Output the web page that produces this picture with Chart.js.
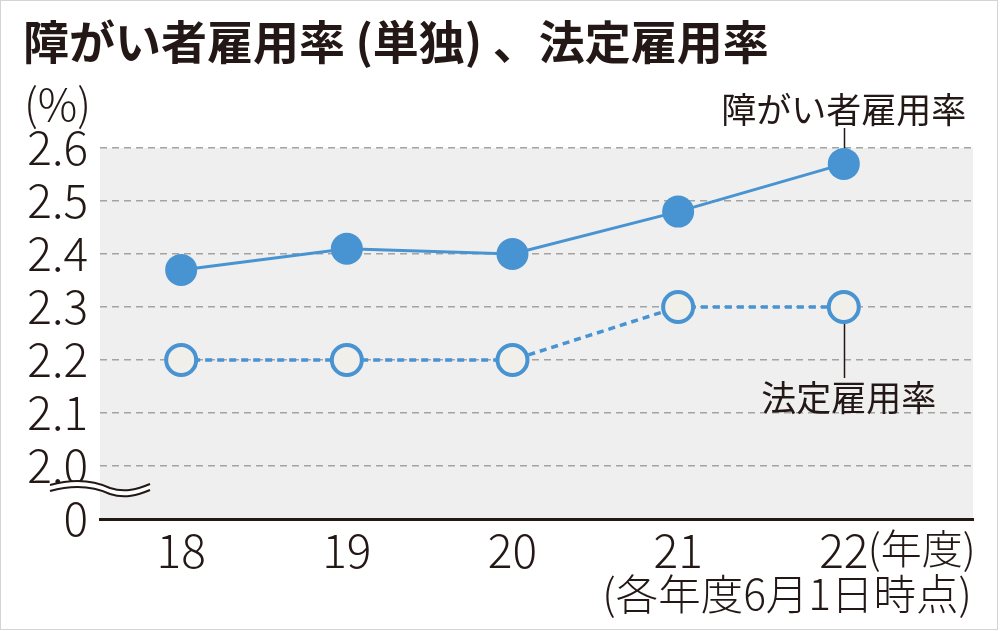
<!DOCTYPE html>
<html><head><meta charset="utf-8">
<script src="https://cdn.jsdelivr.net/npm/chart.js@4/dist/chart.umd.min.js"></script>
<style>html,body{margin:0;padding:0;background:#fff;}#wrap{width:1000px;height:631px;}</style>
</head><body><div id="wrap"><canvas id="c" width="1000" height="631"></canvas></div>
<script>
const years = [18, 19, 20, 21, 22];
const employmentRate = [2.37, 2.41, 2.40, 2.48, 2.57];
const legalRate = [2.2, 2.2, 2.2, 2.3, 2.3];
const yTickValues = [1.9, 2.0, 2.1, 2.2, 2.3, 2.4, 2.5, 2.6];
const titleText = '障がい者雇用率 (単独) 、法定雇用率';
const unitText = '(%)';
const seriesNames = ['障がい者雇用率', '法定雇用率'];
const xUnitText = '(年度)';
const noteText = '(各年度6月1日時点)';

const BLUE = '#4893d2';
const INK = '#231815';
const JP = '"Noto Sans CJK JP", "Noto Sans", sans-serif';

const decor = {
  id: 'decor',
  beforeDraw(chart) {
    const {ctx, chartArea: a} = chart;
    ctx.save();
    ctx.fillStyle = '#efefef';
    ctx.fillRect(a.left, a.top, a.right - a.left, a.bottom - a.top);
    ctx.restore();
  },
  beforeDatasetsDraw(chart) {
    const {ctx} = chart;
    const xs = chart.scales.x, ys = chart.scales.y;
    const x = Math.round(xs.getPixelForValue(years[4])) + 0.5;
    ctx.save();
    ctx.strokeStyle = INK; ctx.lineWidth = 1.5;
    ctx.beginPath();
    ctx.moveTo(x, 128); ctx.lineTo(x, ys.getPixelForValue(employmentRate[4]));
    ctx.moveTo(x, ys.getPixelForValue(legalRate[4])); ctx.lineTo(x, 378);
    ctx.stroke();
    ctx.restore();
  },
  afterDraw(chart) {
    const {ctx} = chart;
    const xs = chart.scales.x;
    const x22 = xs.getPixelForValue(years[4]);
    ctx.save();
    // border
    ctx.strokeStyle = '#d4d4d4'; ctx.lineWidth = 1;
    ctx.strokeRect(0.5, 0.5, 997, 629);
    // title
    ctx.fillStyle = INK;
    ctx.textBaseline = 'middle';
    ctx.textAlign = 'left';
    ctx.font = '600 46px ' + JP;
    ctx.fillText(titleText, 23, 42);
    // unit
    ctx.font = '300 44px ' + JP;
    ctx.fillText(unitText, 24, 104);
    // series labels
    ctx.font = '35px ' + JP;
    ctx.textAlign = 'center';
    ctx.fillText(seriesNames[0], x22, 110);
    ctx.fillText(seriesNames[1], x22 + 5, 398);
    // x unit and note
    ctx.font = '300 41px ' + JP;
    ctx.textAlign = 'left';
    ctx.fillText(xUnitText, x22 + 24, 548);
    ctx.font = '300 42.5px ' + JP;
    ctx.textAlign = 'right';
    ctx.fillText(noteText, 972, 594);
    // axis break squiggle
    const wave = (dy) => {
      ctx.moveTo(50, 485 + dy);
      ctx.bezierCurveTo(75, 478 + dy, 95, 481 + dy, 110, 488 + dy);
      ctx.bezierCurveTo(125, 493 + dy, 138, 489 + dy, 150, 484 + dy);
    };
    ctx.fillStyle = '#ffffff';
    ctx.beginPath();
    ctx.moveTo(50, 485);
    ctx.bezierCurveTo(75, 478, 95, 481, 110, 488);
    ctx.bezierCurveTo(125, 493, 138, 489, 150, 484);
    ctx.lineTo(150, 490);
    ctx.bezierCurveTo(138, 495, 125, 499, 110, 494);
    ctx.bezierCurveTo(95, 487, 75, 484, 50, 491);
    ctx.closePath();
    ctx.fill();
    ctx.strokeStyle = INK; ctx.lineWidth = 2;
    ctx.beginPath(); wave(0); ctx.stroke();
    ctx.beginPath(); wave(6); ctx.stroke();
    ctx.restore();
  }
};

new Chart(document.getElementById('c'), {
  type: 'line',
  data: {
    datasets: [
      {
        label: seriesNames[0],
        data: years.map((y, i) => ({x: y, y: employmentRate[i]})),
        borderColor: BLUE, backgroundColor: BLUE,
        borderWidth: 3,
        pointRadius: 16, pointBorderWidth: 0, pointBackgroundColor: BLUE,
        pointHoverRadius: 16,
        clip: false
      },
      {
        label: seriesNames[1],
        data: years.map((y, i) => ({x: y, y: legalRate[i]})),
        borderColor: BLUE, backgroundColor: '#f1efe9',
        borderWidth: 3.5, borderDash: [7, 5],
        pointRadius: 15, pointBorderWidth: 4, pointBackgroundColor: '#f1efe9', pointBorderColor: BLUE,
        pointHoverRadius: 15,
        clip: false
      }
    ]
  },
  options: {
    responsive: false,
    animation: false,
    events: [],
    layout: {padding: {left: 0, right: 27, top: 148, bottom: 0}},
    plugins: {legend: {display: false}, tooltip: {enabled: false}, title: {display: false}},
    scales: {
      x: {
        type: 'linear',
        min: 17.51, max: 22.78,
        afterBuildTicks: (s) => { s.ticks = years.map(v => ({value: v})); },
        afterFit: (s) => { s.height = 112; },
        grid: {display: false, drawTicks: false},
        border: {display: true, color: INK, width: 3},
        ticks: {
          padding: 4, color: INK, autoSkip: false, maxRotation: 0,
          font: {family: JP, size: 46, weight: 300},
          callback: (v) => String(v)
        }
      },
      y: {
        type: 'linear',
        min: 1.9, max: 2.6,
        afterBuildTicks: (s) => { s.ticks = yTickValues.map(v => ({value: v})); },
        afterFit: (s) => { s.width = 100; },
        grid: {
          drawTicks: false,
          color: (c) => (c.tick && c.tick.value < 1.95) ? 'rgba(0,0,0,0)' : '#a3a3a3',
          lineWidth: 1.5
        },
        border: {display: false, dash: [7, 5]},
        ticks: {
          padding: 12, color: INK, autoSkip: false,
          font: {family: JP, size: 46, weight: 300},
          callback: (v) => v < 1.95 ? '0' : Number(v).toFixed(1)
        }
      }
    }
  },
  plugins: [decor]
});
</script></body></html>
